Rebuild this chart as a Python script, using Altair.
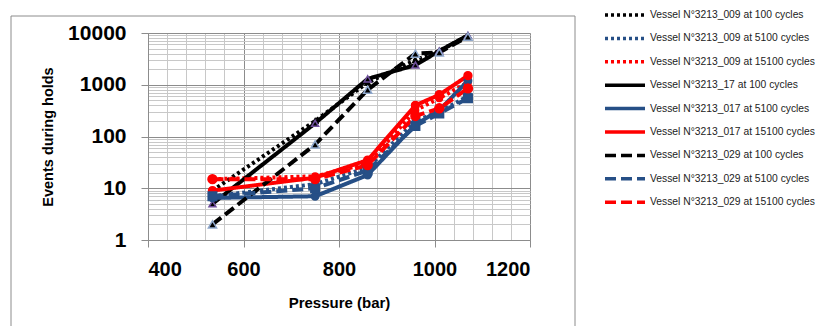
import altair as alt
import pandas as pd

pressure = [535, 750, 860, 960, 1010, 1070]

series_names = [
    "Vessel N°3213_009 at 100 cycles",
    "Vessel N°3213_009 at 5100 cycles",
    "Vessel N°3213_009 at 15100 cycles",
    "Vessel N°3213_17 at 100 cycles",
    "Vessel N°3213_017 at 5100 cycles",
    "Vessel N°3213_017 at 15100 cycles",
    "Vessel N°3213_029 at 100 cycles",
    "Vessel N°3213_029 at 5100 cycles",
    "Vessel N°3213_029 at 15100 cycles",
]

v009_100 = [9, 200, 1100, 3000, 4500, 9000]
v009_5100 = [7, 12, 25, 200, 300, 600]
v009_15100 = [15, 17, 30, 320, 550, 1100]
v017_100 = [5, 180, 1300, 2400, 4500, 9000]
v017_5100 = [6.5, 7, 18, 170, 320, 1200]
v017_15100 = [9, 16, 35, 400, 640, 1500]
v029_100 = [2, 70, 800, 4000, 4200, 8500]
v029_5100 = [7, 10, 22, 160, 280, 550]
v029_15100 = [15, 15, 28, 250, 350, 850]

all_values = [v009_100, v009_5100, v009_15100, v017_100, v017_5100,
              v017_15100, v029_100, v029_5100, v029_15100]

x_major = [400, 600, 800, 1000, 1200]
x_minor = list(range(400, 1201, 40))
y_major = [1, 10, 100, 1000, 10000]
y_minor = [m * d for d in [1, 10, 100, 1000] for m in range(2, 10)]

marker_ids = ["m%d" % i for i in range(len(series_names))]

rows = []
for name, mid, vals in zip(series_names, marker_ids, all_values):
    for p, v in zip(pressure, vals):
        rows.append({"pressure": p, "events": v, "series": name, "marker": mid})
df = pd.DataFrame(rows)

BLACK = "#000000"
BLUE = "#264f86"
RED = "#ff0000"
line_colors = [BLACK, BLUE, RED] * 3
dashes = [[3, 3]] * 3 + [[1, 0]] * 3 + [[11, 5]] * 3
shapes = ["triangle-up", "square", "circle", "triangle-up", "circle", "circle",
          "triangle-up", "square", "circle"]
sizes = [30, 80, 100, 340, 45, 90, 340, 60, 45]
point_stroke = [BLACK, BLUE, RED, "#6f4f9c", BLUE, RED, "#8fa8cc", BLUE, RED]

FONT = "Liberation Sans"
GRID_MAJOR = "#8c8c8c"
GRID_MINOR = "#c8c8c8"

xscale = alt.Scale(domain=[400, 1200], nice=False, zero=False)
yscale = alt.Scale(type="log", domain=[1, 10000], nice=False)

legend = alt.Legend(
    title=None, orient="none", legendX=455, legendY=-25,
    symbolType="stroke", symbolSize=1600, symbolStrokeWidth=3.5,
    clipHeight=14, rowPadding=9.4, padding=0,
    labelFont=FONT, labelFontSize=10.3, labelColor="#222222", labelLimit=220,
    labelOffset=3,
)

minor = alt.Chart(df).mark_point(opacity=0).encode(
    x=alt.X("pressure:Q", scale=xscale, axis=alt.Axis(
        values=x_minor, grid=True, gridColor=GRID_MINOR, labels=False,
        ticks=False, domain=False, title=None, orient="bottom")),
    y=alt.Y("events:Q", scale=yscale, axis=alt.Axis(
        values=y_minor, grid=True, gridColor=GRID_MINOR, labels=False,
        ticks=False, domain=False, title=None, orient="left")),
)

lines = alt.Chart(df).mark_line(strokeWidth=4).encode(
    x=alt.X("pressure:Q", scale=xscale, axis=alt.Axis(
        values=x_major, grid=True, gridColor=GRID_MAJOR, orient="bottom",
        domainColor=GRID_MAJOR, tickColor=GRID_MAJOR, tickSize=7,
        labelFont=FONT, labelFontSize=20, labelFontWeight="bold",
        labelColor="#000000", labelPadding=12, format="d",
        title="Pressure (bar)", titleFont=FONT, titleFontSize=15,
        titleFontWeight="bold", titleColor="#000000",
        titleX=191, titleY=62, titleBaseline="middle")),
    y=alt.Y("events:Q", scale=yscale, axis=alt.Axis(
        values=y_major, grid=True, gridColor=GRID_MAJOR, orient="left",
        domainColor=GRID_MAJOR, tickColor=GRID_MAJOR, tickSize=7,
        labelFont=FONT, labelFontSize=21, labelFontWeight="bold",
        labelColor="#000000", labelPadding=15, format="d",
        title="Events during holds", titleFont=FONT, titleFontSize=14.5,
        titleFontWeight="bold", titleColor="#000000",
        titleX=-100, titleY=103.5, titleBaseline="middle")),
    color=alt.Color("series:N", scale=alt.Scale(domain=series_names, range=line_colors),
                    legend=legend),
    strokeDash=alt.StrokeDash("series:N", scale=alt.Scale(domain=series_names, range=dashes),
                              legend=legend),
)

points = alt.Chart(df).mark_point(filled=True, opacity=1, strokeWidth=1.5).encode(
    x=alt.X("pressure:Q", scale=xscale, axis=None),
    y=alt.Y("events:Q", scale=yscale, axis=None),
    shape=alt.Shape("marker:N", scale=alt.Scale(domain=marker_ids, range=shapes), legend=None),
    size=alt.Size("marker:N", scale=alt.Scale(domain=marker_ids, range=sizes), legend=None),
    fill=alt.Fill("marker:N", scale=alt.Scale(domain=marker_ids, range=line_colors), legend=None),
    stroke=alt.Stroke("marker:N", scale=alt.Scale(domain=marker_ids, range=point_stroke), legend=None),
)

frame = alt.Chart(alt.Data(values=[{}])).mark_rect(
    fill=None, stroke="#8c8c8c", strokeWidth=1
).encode(
    x=alt.value(-137), x2=alt.value(427), y=alt.value(-17), y2=alt.value(300)
)

chart = alt.layer(minor, lines, points, frame).resolve_axis(
    x="independent", y="independent"
).properties(
    width=382, height=207,
    autosize=alt.AutoSizeParams(type="none"),
    padding={"left": 140, "top": 25, "right": 286, "bottom": 86},
).configure_view(stroke=None)

chart.save("out.html", embed_options={"renderer": "svg", "actions": False})
